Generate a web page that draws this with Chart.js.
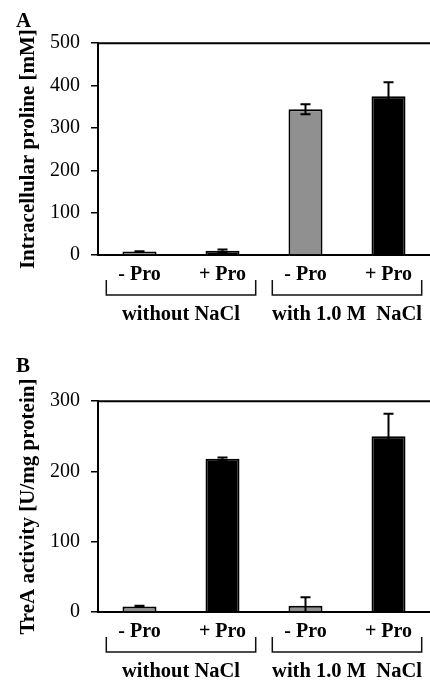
<!DOCTYPE html>
<html>
<head>
<meta charset="utf-8">
<script src="https://cdn.jsdelivr.net/npm/chart.js@4.4.1/dist/chart.umd.min.js"></script>
<style>
  html, body { margin: 0; padding: 0; background: #fff; }
  #wrap { position: relative; width: 430px; height: 681px; overflow: hidden; }
  #cA { position: absolute; left: 0; top: 0; }
  #cB { position: absolute; left: 0; top: 340px; }
</style>
</head>
<body>
<div id="wrap">
  <canvas id="cA" width="430" height="340"></canvas>
  <canvas id="cB" width="430" height="341"></canvas>
</div>
<script>
// ---- data ----
const categories = ['- Pro', '+ Pro', '- Pro', '+ Pro'];
const groups = ['without NaCl', 'with 1.0 M  NaCl'];
const groupMembers = [[0, 1], [2, 3]];

const prolineValues = [8, 10, 344, 375];
const prolineErrors = [1, 3, 12, 33];
const prolineTicks = [0, 100, 200, 300, 400, 500];

const treaValues = [8, 218, 9, 250];
const treaErrors = [1, 2, 12, 32];
const treaTicks = [0, 100, 200, 300];

// ---- styling ----
const FAM = "'Liberation Serif', 'Times New Roman', serif";
Chart.defaults.color = '#000';
Chart.defaults.font.family = FAM;
const barColors = ['#909090', '#000000', '#909090', '#000000'];

const errorBarPlugin = {
  id: 'errorBars',
  afterDatasetsDraw(chart, args, opts) {
    const ctx = chart.ctx;
    const y = chart.scales.y;
    const meta = chart.getDatasetMeta(0);
    const errs = opts.errors || [];
    const vals = chart.data.datasets[0].data;
    ctx.save();
    ctx.beginPath();
    ctx.rect(chart.chartArea.left, chart.chartArea.top - 5, chart.chartArea.width, chart.chartArea.height + 5);
    ctx.clip();
    ctx.strokeStyle = '#000';
    ctx.lineWidth = 2;
    meta.data.forEach((bar, i) => {
      const e = errs[i];
      if (!e) return;
      const x = bar.x;
      const hiV = vals[i] + e;
      const loV = vals[i] - e;
      const yHi = y.getPixelForValue(hiV);
      const yLo = y.getPixelForValue(Math.max(loV, 0));
      const cap = 5;
      ctx.beginPath();
      ctx.moveTo(x, yHi); ctx.lineTo(x, yLo);
      ctx.moveTo(x - cap, yHi); ctx.lineTo(x + cap, yHi);
      if (loV > 0) { ctx.moveTo(x - cap, yLo); ctx.lineTo(x + cap, yLo); }
      ctx.stroke();
    });
    ctx.restore();
  }
};

const framePlugin = {
  id: 'frameAndGroups',
  afterDraw(chart, args, opts) {
    const ctx = chart.ctx;
    const area = chart.chartArea;
    const xs = chart.scales.x;
    ctx.save();
    // top frame line
    ctx.strokeStyle = '#000';
    ctx.lineWidth = 2;
    ctx.beginPath();
    ctx.moveTo(area.left, area.top);
    ctx.lineTo(area.right, area.top);
    ctx.stroke();
    // brackets + group labels
    const catW = xs.width / categories.length;
    const yT = area.bottom + 25;
    const yB = area.bottom + 40;
    ctx.lineWidth = 1.5;
    ctx.strokeStyle = '#111';
    ctx.fillStyle = '#000';
    ctx.font = "bold 20.5px " + FAM;
    ctx.textAlign = 'center';
    ctx.textBaseline = 'middle';
    groups.forEach((g, gi) => {
      const idx = groupMembers[gi];
      const x0 = xs.getPixelForValue(idx[0]) - 0.4 * catW;
      const x1 = xs.getPixelForValue(idx[idx.length - 1]) + 0.4 * catW;
      ctx.beginPath();
      ctx.moveTo(x0, yT); ctx.lineTo(x0, yB); ctx.lineTo(x1, yB); ctx.lineTo(x1, yT);
      ctx.stroke();
      const cx = (xs.getPixelForValue(idx[0]) + xs.getPixelForValue(idx[idx.length - 1])) / 2;
      ctx.fillText(g, cx, area.bottom + 60);
    });
    ctx.restore();
  }
};

function makeChart(id, letter, values, errors, ticks, yTitle, titlePad, xHeight) {
  const maxV = ticks[ticks.length - 1];
  return new Chart(document.getElementById(id), {
    type: 'bar',
    data: {
      labels: categories,
      datasets: [{
        data: values,
        backgroundColor: barColors,
        borderColor: '#000',
        borderWidth: 2,
        barPercentage: 0.41,
        categoryPercentage: 1.0
      }]
    },
    options: {
      responsive: false,
      animation: false,
      devicePixelRatio: 1,
      layout: { padding: { left: 16, right: 0, top: 0, bottom: 0 } },
      plugins: {
        legend: { display: false },
        tooltip: { enabled: false },
        title: {
          display: true, text: letter, align: 'start', color: '#000',
          font: { size: 21, weight: 'bold', family: FAM },
          padding: titlePad
        },
        errorBars: { errors: errors }
      },
      scales: {
        x: {
          grid: { display: false, drawTicks: false, tickLength: 0 },
          border: { display: true, color: '#000', width: 2 },
          ticks: { padding: 8, color: '#000', font: { size: 20, weight: 'bold', family: FAM } },
          afterFit(s) { s.height = xHeight; }
        },
        y: {
          min: 0, max: maxV,
          afterBuildTicks(s) { s.ticks = ticks.map(v => ({ value: v })); },
          grid: { display: true, drawOnChartArea: false, drawTicks: true, tickLength: 7, color: '#000', lineWidth: 1.5 },
          border: { display: true, color: '#000', width: 2 },
          ticks: { padding: 11, color: '#000', font: { size: 20, family: FAM } },
          title: {
            display: true, text: yTitle, color: '#000',
            font: { size: 21, weight: 'bold', family: FAM },
            padding: { top: 0, bottom: 0 }
          },
          afterFit(s) { s.width = 82; }
        }
      }
    },
    plugins: [errorBarPlugin, framePlugin]
  });
}

makeChart('cA', 'A', prolineValues, prolineErrors, prolineTicks,
  'Intracellular proline [mM]', { top: 9, bottom: 9 }, 85);
makeChart('cB', 'B', treaValues, treaErrors, treaTicks,
  'TreA activity [U/mg protein]', { top: 14, bottom: 22 }, 69);
</script>
</body>
</html>
